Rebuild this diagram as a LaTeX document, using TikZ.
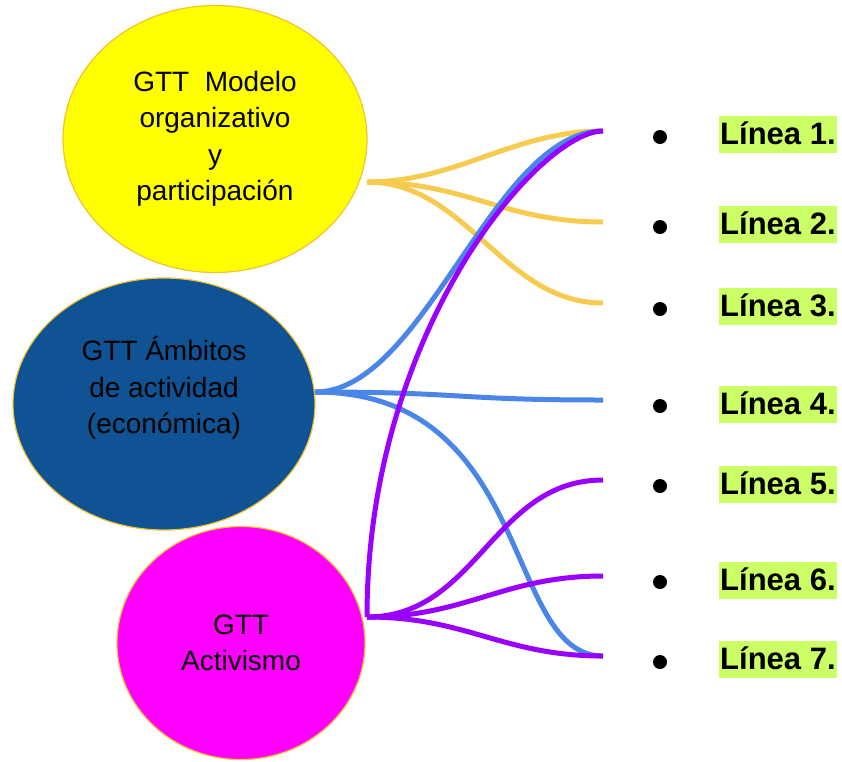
\documentclass[tikz,border=0pt]{standalone}
\usepackage{fontspec}
\setmainfont{Liberation Sans}
\usetikzlibrary{shapes.geometric}
\definecolor{amarillo}{HTML}{FFFF00}
\definecolor{azuloscuro}{HTML}{0F5394}
\definecolor{magenta}{HTML}{FF00FF}
\definecolor{borde}{HTML}{F1C232}
\definecolor{lamarillo}{HTML}{F6CB4F}
\definecolor{lazul}{HTML}{4A86E8}
\definecolor{lmorado}{HTML}{9900FF}
\definecolor{verde}{HTML}{CCFF66}
\begin{document}
\begin{tikzpicture}[x=1pt,y=-1pt,
	elip/.style={ellipse,draw=borde,line width=1.2pt,inner sep=0pt,align=center,font=\fontsize{28}{36.5}\selectfont},
	curva/.style={line width=5pt},
	cham/.style={circle,fill=black,inner sep=0pt,minimum size=14pt},
	nhan/.style={fill=verde,anchor=base west,inner xsep=1pt,inner ysep=1pt,text height=27pt,text depth=8pt,font=\fontsize{31}{36}\bfseries\selectfont}]
	\useasboundingbox (0,0) rectangle (842,761);
	% Los tres grupos
	\node[elip,fill=amarillo,minimum width=304pt,minimum height=267pt] (M) at (215,139) {GTT\ \ Modelo\\organizativo\\y\\participación};
	\node[elip,fill=azuloscuro,minimum width=302pt,minimum height=252pt] (A) at (164,404) {};
	\node[align=center,font=\fontsize{28}{36.5}\selectfont] (At) at (164,388) {GTT Ámbitos\\de actividad\\(económica)};
	\node[elip,fill=magenta,minimum width=248pt,minimum height=233pt] (V) at (241,643) {GTT\\Activismo};
	% Puntos de salida y de llegada
	\coordinate (sM) at (367,182); \coordinate (sA) at (315,392); \coordinate (sV) at (367,617);
	\coordinate (L1) at (603,131); \coordinate (L2) at (603,222); \coordinate (L3) at (603,303);
	\coordinate (L4) at (603,400); \coordinate (L5) at (603,480); \coordinate (L6) at (603,576);
	\coordinate (L7) at (603,656);
	% Lista de líneas
	\node[cham] (B1) at (660,137) {}; \node[nhan] (T1) at (719,144) {Línea 1.};
	\node[cham] (B2) at (660,227) {}; \node[nhan] (T2) at (719,234) {Línea 2.};
	\node[cham] (B3) at (660,309) {}; \node[nhan] (T3) at (719,316) {Línea 3.};
	\node[cham] (B4) at (660,406) {}; \node[nhan] (T4) at (719,414) {Línea 4.};
	\node[cham] (B5) at (660,486) {}; \node[nhan] (T5) at (719,494) {Línea 5.};
	\node[cham] (B6) at (660,582) {}; \node[nhan] (T6) at (719,590) {Línea 6.};
	\node[cham] (B7) at (660,662) {}; \node[nhan] (T7) at (719,669) {Línea 7.};
	% Conexiones
	\draw[curva,lamarillo] (sM) .. controls +(90,0) and +(-90,0) .. (L1);
	\draw[curva,lamarillo] (sM) .. controls +(100,0) and +(-100,0) .. (L2);
	\draw[curva,lamarillo] (sM) .. controls +(100,0) and +(-100,0) .. (L3);
	\draw[curva,lazul] (sA) .. controls +(110,0) and +(-110,0) .. (L1);
	\draw[curva,lazul] (sA) .. controls +(150,0) and +(-150,0) .. (L4);
	\draw[curva,lazul] (sA) .. controls +(220,0) and +(-100,0) .. (L7);
	\draw[curva,lmorado] (sV) .. controls +(0,-287) and +(-63,0) .. (L1);
	\draw[curva,lmorado] (sV) .. controls +(110,0) and +(-110,0) .. (L5);
	\draw[curva,lmorado] (sV) .. controls +(100,0) and +(-100,0) .. (L6);
	\draw[curva,lmorado] (sV) .. controls +(100,0) and +(-100,0) .. (L7);
\end{tikzpicture}
\end{document}
